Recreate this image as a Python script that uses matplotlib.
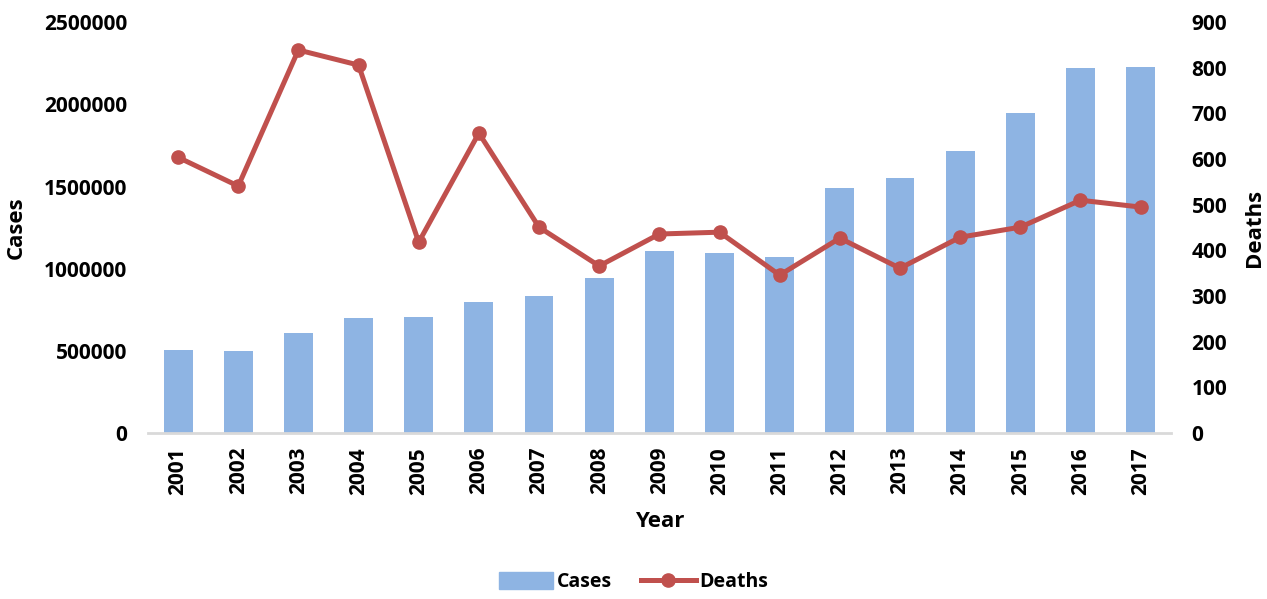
import numpy as np
import matplotlib.pyplot as plt
from matplotlib.lines import Line2D
from matplotlib.patches import Patch

years = [str(y) for y in range(2001, 2018)]
cases = [505000, 500000, 610000, 700000, 705000, 800000, 835000, 945000, 1110000,
         1095000, 1070000, 1490000, 1550000, 1715000, 1945000, 2220000, 2225000]
deaths = [604, 541, 839, 806, 418, 657, 451, 366, 436, 440, 346, 427, 361, 429, 451, 510, 495]

bar_color = '#8EB4E3'
line_color = '#C0504D'
plt.rcParams['font.family'] = ['Open Sans', 'DejaVu Sans']
plt.rcParams['font.weight'] = 'bold'

fig = plt.figure(figsize=(12.67, 5.99), dpi=100)
ax = fig.add_axes([0.1168, 0.277, 0.8072, 0.686])
ax2 = ax.twinx()

x = np.arange(len(years))
ax.bar(x, cases, width=0.48, color=bar_color, zorder=2)
ax2.plot(x, deaths, color=line_color, linewidth=3.6, marker='o', markersize=9.5, zorder=3)

ax.set_xlim(-0.5, len(years) - 0.5)
ax.set_ylim(0, 2500000)
ax2.set_ylim(0, 900)
ax.set_yticks(np.arange(0, 2500001, 500000))
ax2.set_yticks(np.arange(0, 901, 100))
ax.set_yticklabels([str(v) for v in range(0, 2500001, 500000)], fontsize=15, fontweight='bold')
ax2.set_yticklabels([str(v) for v in range(0, 901, 100)], fontsize=15, fontweight='bold')
ax.set_xticks(x)
ax.set_xticklabels(years, rotation=90, fontsize=15, fontweight='bold')

for a in (ax, ax2):
    for s in a.spines.values():
        s.set_visible(False)
    a.tick_params(length=0)
ax.spines['bottom'].set_visible(True)
ax.spines['bottom'].set_color('#D9D9D9')
ax.spines['bottom'].set_linewidth(2)
ax.tick_params(axis='x', pad=10)
ax.tick_params(axis='y', pad=15)
ax2.tick_params(axis='y', pad=15)

ax.set_xlabel('Year', fontsize=16, fontweight='bold', labelpad=12)
ax.set_ylabel('Cases', fontsize=16, fontweight='bold', labelpad=12)
ax2.set_ylabel('Deaths', fontsize=16, fontweight='bold', labelpad=12)

handles = [Patch(color=bar_color, label='Cases'),
           Line2D([], [], color=line_color, linewidth=3.6, marker='o', markersize=9.5, label='Deaths')]
fig.legend(handles=handles, loc='lower center', ncol=2, frameon=False, fontsize=14,
           bbox_to_anchor=(0.5, -0.018), handlelength=2.8, handleheight=1.0,
           columnspacing=1.5, handletextpad=0.2)

fig.savefig('out.png', dpi=100)
